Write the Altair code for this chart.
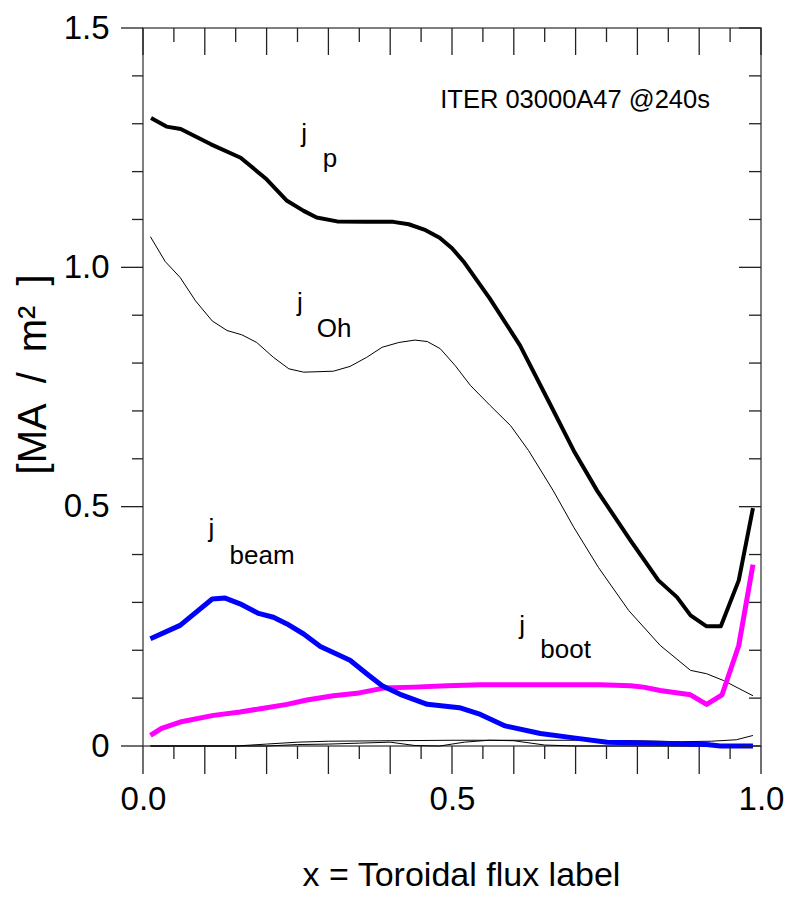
import altair as alt
import pandas as pd

# ---------------- data ----------------
jp_x = [0.013, 0.038, 0.061, 0.110, 0.158, 0.200, 0.233, 0.260, 0.281, 0.314, 0.360, 0.405,
        0.430, 0.455, 0.480, 0.500, 0.520, 0.561, 0.610, 0.658, 0.697, 0.735, 0.789, 0.834,
        0.864, 0.886, 0.912, 0.935, 0.964, 0.987]
jp_y = [1.312, 1.294, 1.289, 1.257, 1.229, 1.184, 1.139, 1.118, 1.104, 1.096, 1.095, 1.095,
        1.090, 1.079, 1.062, 1.040, 1.010, 0.935, 0.837, 0.716, 0.617, 0.533, 0.429, 0.346,
        0.311, 0.273, 0.250, 0.250, 0.346, 0.497]

oh_x = [0.012, 0.036, 0.060, 0.085, 0.112, 0.136, 0.160, 0.184, 0.211, 0.236, 0.260, 0.308,
        0.335, 0.362, 0.387, 0.414, 0.440, 0.460, 0.481, 0.505, 0.530, 0.562, 0.595, 0.624,
        0.664, 0.697, 0.737, 0.786, 0.837, 0.886, 0.912, 0.939, 0.987]
oh_y = [1.064, 1.012, 0.979, 0.930, 0.888, 0.868, 0.859, 0.843, 0.812, 0.788, 0.781, 0.783,
        0.793, 0.812, 0.833, 0.843, 0.848, 0.845, 0.830, 0.795, 0.753, 0.711, 0.669, 0.617,
        0.533, 0.457, 0.373, 0.283, 0.210, 0.158, 0.151, 0.137, 0.105]

bt_x = [0.012, 0.030, 0.060, 0.114, 0.157, 0.190, 0.233, 0.265, 0.308, 0.346, 0.389, 0.438,
        0.492, 0.546, 0.643, 0.740, 0.789, 0.810, 0.837, 0.886, 0.912, 0.937, 0.964, 0.987]
bt_y = [0.022, 0.037, 0.050, 0.064, 0.071, 0.078, 0.087, 0.096, 0.105, 0.110, 0.121, 0.123,
        0.126, 0.128, 0.128, 0.128, 0.126, 0.123, 0.116, 0.107, 0.087, 0.107, 0.210, 0.379]

bm_x = [0.012, 0.060, 0.112, 0.133, 0.157, 0.187, 0.211, 0.233, 0.260, 0.287, 0.335, 0.362,
        0.387, 0.416, 0.460, 0.512, 0.546, 0.586, 0.643, 0.697, 0.751, 0.848, 0.912, 0.934,
        0.987]
bm_y = [0.224, 0.252, 0.307, 0.309, 0.297, 0.277, 0.269, 0.255, 0.234, 0.208, 0.179, 0.151,
        0.126, 0.108, 0.087, 0.080, 0.066, 0.042, 0.026, 0.017, 0.008, 0.005, 0.003, 0.000,
        0.000]

sa_x = [0.012, 0.150, 0.200, 0.250, 0.300, 0.400, 0.500, 0.600, 0.700, 0.800, 0.870, 0.920,
        0.960, 0.987]
sa_y = [0.000, 0.000, 0.004, 0.008, 0.010, 0.011, 0.012, 0.012, 0.012, 0.011, 0.009, 0.010,
        0.013, 0.022]

sb_x = [0.012, 0.200, 0.250, 0.300, 0.350, 0.400, 0.440, 0.480, 0.520, 0.560, 0.600, 0.650,
        0.700, 0.987]
sb_y = [0.000, 0.000, 0.003, 0.004, 0.006, 0.008, 0.001, 0.000, 0.008, 0.012, 0.011, 0.002,
        0.000, 0.000]

# curve labels: main letter and subscript
lab_text = ["j", "p", "j", "Oh", "j", "beam", "j", "boot"]
lab_x = [0.256, 0.291, 0.249, 0.281, 0.106, 0.140, 0.609, 0.643]
lab_y = [1.262, 1.210, 0.909, 0.855, 0.437, 0.381, 0.235, 0.183]

note_text = ["ITER 03000A47 @240s"]
note_x = [0.481]
note_y = [1.333]

x_major = [round(i * 0.1, 2) for i in range(11)]
x_minor = [round(0.05 + i * 0.1, 2) for i in range(10)]
y_major = [0.0, 0.5, 1.0, 1.5]
y_minor = [round(i * 0.1, 2) for i in range(16) if i % 5 != 0]

x_labels = [0.0, 0.5, 1.0]
y_labels = [0.0, 0.5, 1.0, 1.5]

# ---------------- chart ----------------
W, H = 618, 718
FONT = "Liberation Sans"
TICK = "#222222"

x_axis = alt.Axis(values=x_labels, format=".1f", ticks=False, tickSize=0, domain=False,
                  grid=False, labelFontSize=33, labelFont=FONT, labelColor="black",
                  labelPadding=37, labelFlush=False, labelOverlap=False,
                  title="x = Toroidal flux label", titleFont=FONT, titleFontSize=34,
                  titleFontWeight="normal", titleColor="black", titleX=318, titleY=139,
                  titleAlign="center", titleBaseline="alphabetic")
y_axis = alt.Axis(values=y_labels,
                  labelExpr="datum.value == 0 ? '0' : format(datum.value, '.1f')",
                  ticks=False, tickSize=0, domain=False, grid=False, labelFontSize=33,
                  labelFont=FONT, labelColor="black", labelPadding=34, labelFlush=False,
                  labelOverlap=False,
                  title="[MA\u2002/\u2002m\u00b2\u2002]", titleFont=FONT, titleFontSize=40,
                  titleFontWeight="normal", titleColor="black", titleAngle=270,
                  titleX=-110, titleY=346, titleAlign="center", titleBaseline="middle")

xs = alt.Scale(domain=[0, 1], nice=False, zero=False)
ys = alt.Scale(domain=[0, 1.5], nice=False, zero=False)


def X():
    return alt.X("x:Q", scale=xs, axis=x_axis)


def Y():
    return alt.Y("y:Q", scale=ys, axis=y_axis)


def line(xv, yv, color, width):
    df = pd.DataFrame({"x": xv, "y": yv})
    return alt.Chart(df).mark_line(color=color, strokeWidth=width, strokeJoin="round",
                                   strokeCap="butt").encode(x=X(), y=Y())


def xticks(vals, y0, y1, w=1.3):
    df = pd.DataFrame({"x": vals})
    return alt.Chart(df).mark_rule(color=TICK, strokeWidth=w).encode(
        x=X(), y=alt.value(y0), y2=alt.value(y1))


def yticks(vals, x0, x1, w=1.3):
    df = pd.DataFrame({"y": vals})
    return alt.Chart(df).mark_rule(color=TICK, strokeWidth=w).encode(
        y=Y(), x=alt.value(x0), x2=alt.value(x1))


layers = [
    line(sa_x, sa_y, "black", 1),
    line(sb_x, sb_y, "black", 1),
    line(oh_x, oh_y, "black", 1),
    line(bt_x, bt_y, "#ff00ff", 5),
    line(bm_x, bm_y, "#0000ff", 5),
    line(jp_x, jp_y, "black", 4),
    # ticks: bottom (outward), top (inward), left (outward), right (inward)
    xticks(x_major, H, H + 28),
    xticks(x_minor, H, H + 13),
    xticks(x_major, 0, 27),
    xticks(x_minor, 0, 14),
    yticks(y_major, 0, -22),
    yticks(y_minor, 0, -11),
    yticks(y_major, W, W - 22),
    yticks(y_minor, W, W - 12),
]

lab_df = pd.DataFrame({"x": lab_x, "y": lab_y, "t": lab_text})
layers.append(alt.Chart(lab_df).mark_text(align="left", baseline="alphabetic",
                                          font=FONT, fontSize=26,
                                          color="black").encode(x=X(), y=Y(), text="t:N"))
note_df = pd.DataFrame({"x": note_x, "y": note_y, "t": note_text})
layers.append(alt.Chart(note_df).mark_text(align="left", baseline="alphabetic",
                                           font=FONT, fontSize=25.5,
                                           color="black").encode(x=X(), y=Y(), text="t:N"))

chart = alt.layer(*layers).properties(
    width=W, height=H,
    padding={"left": 135, "top": 20, "right": 24, "bottom": 145},
    autosize=alt.AutoSizeParams(type="none"),
    background="white",
).configure_view(stroke="#555555", strokeWidth=1.5)

chart.save("out.html", embed_options={"renderer": "svg", "actions": False})
